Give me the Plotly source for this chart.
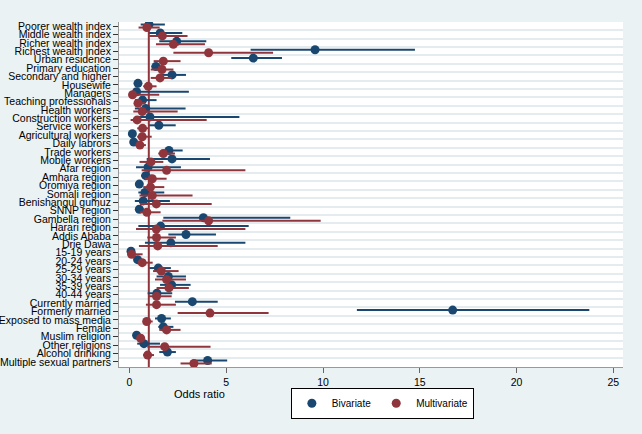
import numpy as np
import plotly.graph_objects as go

categories = [
    "Poorer wealth index", "Middle wealth index", "Richer wealth index", "Richest wealth index",
    "Urban residence", "Primary education", "Secondary and higher", "Housewife", "Managers",
    "Teaching professionals", "Health workers", "Construction workers", "Service workers",
    "Agricultural workers", "Daily labrors", "Trade workers", "Mobile workers", "Afar region",
    "Amhara region", "Oromiya region", "Somali region", "Benishangul gumuz", "SNNP region",
    "Gambella region", "Harari region", "Addis Ababa", "Drie Dawa", "15-19 years", "20-24 years",
    "25-29 years", "30-34 years", "35-39 years", "40-44 years", "Currently married",
    "Formerly married", "Exposed to mass media", "Female", "Muslim religion", "Other religions",
    "Alcohol drinking", "Multiple sexual partners",
]

biv_or = [1.01, 1.59, 2.44, 9.59, 6.40, 1.37, 2.20, 0.44, 0.37, 0.68, 0.84, 1.06, 1.52, 0.15,
          0.22, 2.04, 2.20, 0.96, 0.84, 0.51, 0.80, 0.71, 0.51, 3.82, 1.61, 2.92, 2.14, 0.08,
          0.42, 1.49, 2.01, 2.18, 1.42, 3.25, 16.70, 1.66, 1.75, 0.37, 0.75, 1.96, 4.04]
biv_lo = [0.58, 1.02, 1.54, 6.26, 5.26, 1.13, 1.66, 0.33, 0.15, 0.28, 0.28, 0.30, 1.02, 0.08,
          0.13, 1.75, 0.89, 0.34, 0.60, 0.40, 0.46, 0.28, 0.34, 1.75, 0.46, 2.01, 0.80, 0.04,
          0.30, 1.03, 1.40, 1.58, 0.94, 2.35, 11.75, 1.32, 1.49, 0.24, 0.40, 1.54, 3.26]
biv_hi = [1.83, 2.73, 3.97, 14.75, 7.88, 1.75, 2.92, 0.57, 3.07, 1.40, 2.90, 5.68, 2.39, 0.25,
          0.35, 2.75, 4.16, 2.66, 1.15, 0.65, 1.80, 2.09, 0.75, 8.31, 6.16, 4.47, 5.99, 0.15,
          0.58, 2.14, 2.92, 3.16, 2.21, 4.56, 23.76, 2.14, 2.27, 0.51, 1.58, 2.40, 5.05]

mv_or = [0.90, 1.70, 2.27, 4.09, 1.75, 1.68, 1.58, 0.97, 0.16, 0.44, 0.66, 0.40, 0.68, 0.66,
         0.54, 1.75, 1.11, 1.92, 1.18, 1.09, 1.18, 1.39, 0.90, 4.09, 1.39, 1.40, 1.46, 0.11,
         0.66, 1.65, 1.92, 2.04, 1.40, 1.40, 4.16, 0.89, 1.92, 0.58, 1.82, 0.94, 3.33]
mv_lo = [0.47, 1.02, 1.37, 2.27, 1.25, 1.10, 1.10, 0.71, 0.05, 0.25, 0.20, 0.06, 0.40, 0.40,
         0.38, 1.49, 0.52, 0.63, 0.79, 0.71, 0.52, 0.55, 0.55, 1.70, 0.34, 0.92, 0.49, 0.03,
         0.46, 1.22, 1.32, 1.40, 0.98, 0.85, 2.49, 0.71, 1.54, 0.37, 0.92, 0.71, 2.64]
mv_hi = [1.56, 3.00, 3.90, 7.42, 2.64, 2.27, 2.18, 1.40, 1.54, 0.80, 2.49, 3.99, 1.02, 1.15,
         0.85, 2.35, 1.75, 5.99, 1.92, 1.80, 3.26, 4.25, 1.61, 9.88, 5.99, 2.40, 4.56, 0.68,
         1.20, 2.54, 2.92, 3.07, 2.18, 2.40, 7.19, 1.20, 2.64, 0.76, 4.19, 1.27, 4.25]

x_ticks = [0, 5, 10, 15, 20, 25]
REF_OR = 1

NAVY = "#1a476f"
MAROON = "#90353b"
BG = "#eaf2f3"

rows = np.arange(len(categories))
OFF = 0.18

def err(v, lo, hi, color):
    v, lo, hi = map(np.asarray, (v, lo, hi))
    return dict(type="data", symmetric=False, array=hi - v, arrayminus=v - lo,
                width=0, thickness=2, color=color)

fig = go.Figure()
fig.add_trace(go.Scatter(x=biv_or, y=rows - OFF, mode="markers", name="Bivariate",
                         marker=dict(color=NAVY, size=9),
                         error_x=err(biv_or, biv_lo, biv_hi, NAVY)))
fig.add_trace(go.Scatter(x=mv_or, y=rows + OFF, mode="markers", name="Multivariate",
                         marker=dict(color=MAROON, size=9),
                         error_x=err(mv_or, mv_lo, mv_hi, MAROON)))

fig.add_shape(type="line", xref="x", yref="y", x0=REF_OR, x1=REF_OR,
              y0=OFF, y1=len(categories) - 0.4, line=dict(color=MAROON, width=2),
              layer="between")

fig.update_layout(
    width=642, height=434,
    margin=dict(l=119, r=19, t=22, b=67, autoexpand=False),
    paper_bgcolor=BG, plot_bgcolor="white",
    font=dict(family="Liberation Sans, Arial, sans-serif", size=10, color="black"),
    showlegend=True,
    legend=dict(orientation="h", x=0.341, y=-0.06, xanchor="left", yanchor="top",
                bgcolor="white", bordercolor="black", borderwidth=1,
                font=dict(size=10), itemwidth=30, tracegroupgap=0),
    annotations=[dict(text="Odds ratio", xref="paper", yref="paper", x=0.16, y=-0.055,
                      xanchor="center", yanchor="top", showarrow=False,
                      font=dict(size=11))],
)
fig.update_xaxes(range=[-0.54, 25.5], tickvals=x_ticks, ticks="outside", ticklen=5,
                 tickcolor="#666", showgrid=False, zeroline=False, showline=True,
                 linecolor="#999", linewidth=1, tickfont=dict(size=10.5), automargin=False)
fig.update_yaxes(range=[len(categories) - 0.4, -0.48], tickvals=rows, ticktext=categories,
                 ticks="outside", ticklen=5, tickcolor="#333", showgrid=False, zeroline=False,
                 showline=True, linecolor="#999", linewidth=1, automargin=False,
                 tickfont=dict(size=10.5),
                 minor=dict(tick0=0.5, dtick=1, showgrid=True, gridcolor="#e4ecef",
                            gridwidth=1.5, ticks=""))

fig.write_html("out.html", config={"displayModeBar": False},
               post_script="document.body.style.margin='0';document.body.style.background='" + BG + "';")
